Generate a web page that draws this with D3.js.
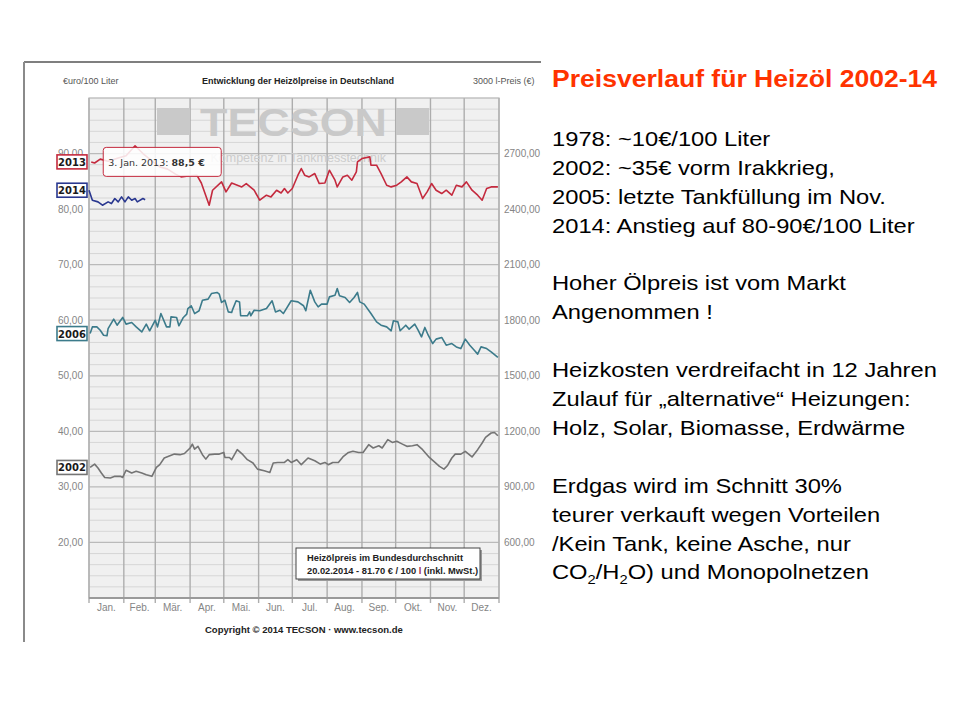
<!DOCTYPE html>
<html>
<head>
<meta charset="utf-8">
<script src="https://cdn.jsdelivr.net/npm/d3@7"></script>
<style>
body { margin: 0; background: #fff; }
svg { display: block; }
</style>
</head>
<body>
<script>
// Heizölpreise (EUR / 100 l), one year per series, dates as MM-DD
var monthLabels = ["Jan.", "Feb.", "Mär.", "Apr.", "Mai.", "Jun.", "Jul.", "Aug.", "Sep.", "Okt.", "Nov.", "Dez."];
var leftTicks = [20, 30, 40, 50, 60, 70, 80, 90];
var rightTicks = [600, 900, 1200, 1500, 1800, 2100, 2400, 2700];
var seriesYears = ["2002", "2006", "2013", "2014"];

var heizoel2002 = [
    ["01-02",33.5],["01-06",34.1],["01-09",33.4],["01-12",32.5],["01-15",31.7],["01-20",31.6],["01-24",31.9],["01-29",31.9],
    ["01-31",31.7],["02-03",33.0],["02-08",32.5],["02-12",32.8],["02-17",32.5],["02-21",32.2],["02-26",31.9],["03-02",33.5],
    ["03-05",34.0],["03-09",35.2],["03-14",35.6],["03-18",35.9],["03-23",35.8],["03-27",36.0],["04-01",37.0],["04-03",37.7],
    ["04-05",36.8],["04-08",37.3],["04-12",35.8],["04-15",35.0],["04-18",35.8],["04-23",35.9],["04-27",35.9],["05-01",36.2],
    ["05-02",35.3],["05-06",35.3],["05-08",34.9],["05-13",36.7],["05-18",35.8],["05-22",34.9],["05-27",34.3],["05-31",33.2],
    ["06-06",32.9],["06-11",32.6],["06-14",34.3],["06-18",34.4],["06-24",34.4],["06-27",34.9],["06-30",34.4],["07-05",34.9],
    ["07-09",34.0],["07-15",35.2],["07-21",34.7],["07-26",34.1],["07-30",34.4],["08-02",34.0],["08-06",34.4],["08-11",34.4],
    ["08-15",35.4],["08-20",36.2],["08-24",36.4],["08-29",36.2],["09-02",36.2],["09-07",37.6],["09-11",37.0],["09-16",37.4],
    ["09-19",37.0],["09-24",38.5],["09-28",38.0],["10-02",38.2],["10-07",37.7],["10-11",37.3],["10-16",37.4],["10-20",37.6],
    ["10-25",36.7],["10-31",35.3],["11-04",34.6],["11-09",33.7],["11-13",33.2],["11-16",33.8],["11-20",35.2],["11-23",35.9],
    ["11-28",35.9],["12-02",36.4],["12-08",35.4],["12-13",36.7],["12-17",37.9],["12-20",38.9],["12-25",39.7],["12-28",39.8],
    ["12-31",39.2]
];

var heizoel2006 = [
    ["01-02",57.6],["01-04",58.8],["01-08",58.8],["01-11",58.2],["01-14",57.3],["01-17",57.2],["01-18",58.5],["01-23",60.2],
    ["01-26",59.1],["01-31",60.5],["02-03",59.3],["02-08",59.6],["02-12",58.8],["02-17",57.9],["02-21",59.3],["02-24",58.1],
    ["03-01",60.0],["03-03",58.8],["03-06",61.2],["03-11",58.8],["03-14",58.8],["03-15",60.6],["03-20",60.5],["03-22",59.0],
    ["03-26",60.5],["03-29",61.1],["03-30",62.1],["04-02",62.6],["04-05",61.2],["04-09",61.7],["04-12",63.6],["04-17",63.8],
    ["04-20",64.8],["04-25",65.0],["04-27",64.7],["04-29",63.2],["05-02",63.6],["05-05",61.5],["05-08",61.4],["05-09",62.0],
    ["05-12",63.5],["05-15",63.3],["05-16",60.8],["05-22",60.8],["05-24",61.5],["05-25",60.8],["05-28",61.8],["06-02",61.7],
    ["06-08",62.1],["06-13",63.5],["06-16",61.5],["06-20",61.8],["06-23",61.2],["06-30",63.5],["07-06",63.3],["07-11",62.6],
    ["07-13",61.7],["07-17",65.4],["07-21",63.3],["07-24",62.4],["07-27",62.9],["08-01",62.9],["08-03",64.2],["08-08",64.5],
    ["08-10",65.7],["08-12",64.4],["08-17",64.1],["08-21",63.2],["08-25",64.1],["08-28",65.0],["08-30",63.3],["09-03",62.9],
    ["09-09",61.2],["09-14",59.7],["09-18",59.1],["09-23",58.8],["09-27",58.1],["09-29",59.9],["10-03",59.7],["10-05",58.1],
    ["10-10",59.1],["10-13",58.4],["10-18",59.3],["10-21",58.2],["10-24",57.0],["10-27",58.7],["10-30",57.3],["11-03",55.8],
    ["11-06",56.6],["11-11",56.9],["11-15",55.5],["11-20",55.8],["11-24",55.2],["11-28",54.9],["12-02",56.6],["12-06",55.5],
    ["12-10",54.6],["12-13",53.9],["12-16",55.2],["12-21",54.9],["12-25",54.3],["12-31",53.3]
];

var heizoel2013 = [
    ["01-03",88.5],["01-06",88.3],["01-11",89.0],["01-18",88.6],["01-27",89.2],["02-03",89.6],["02-11",91.4],["02-18",90.0],
    ["02-26",88.7],["03-05",87.6],["03-12",87.2],["03-19",86.3],["03-24",85.8],["04-01",86.0],["04-07",86.1],["04-11",84.7],
    ["04-18",80.7],["04-21",83.4],["04-29",84.9],["05-03",83.1],["05-08",84.7],["05-17",84.0],["05-21",84.6],["05-28",83.4],
    ["06-02",81.6],["06-08",82.5],["06-12",82.2],["06-17",83.4],["06-21",82.9],["06-24",83.7],["06-27",82.9],["07-01",83.7],
    ["07-06",86.1],["07-09",87.3],["07-12",86.1],["07-16",85.8],["07-21",86.4],["07-25",84.6],["07-30",84.7],["08-03",87.0],
    ["08-08",85.2],["08-10",84.0],["08-15",85.8],["08-19",86.1],["08-23",85.2],["08-27",86.7],["08-28",88.5],["09-01",89.1],
    ["09-08",89.4],["09-09",87.9],["09-14",87.9],["09-18",86.4],["09-23",84.3],["09-27",84.0],["10-02",84.3],["10-06",84.9],
    ["10-11",85.8],["10-15",84.9],["10-20",84.6],["10-25",81.9],["10-29",83.1],["11-02",84.6],["11-06",83.4],["11-11",82.8],
    ["11-15",83.4],["11-20",82.5],["11-24",84.3],["11-29",84.0],["12-03",84.9],["12-08",83.4],["12-13",82.5],["12-17",81.6],
    ["12-21",83.7],["12-25",84.0],["12-31",84.0]
];

var heizoel2014 = [
    ["01-01",83.4],["01-04",81.6],["01-09",81.3],["01-13",80.7],["01-18",81.3],["01-21",81.0],["01-24",81.9],["01-27",81.3],
    ["01-30",82.2],["02-02",81.3],["02-05",82.2],["02-08",81.6],["02-11",81.9],["02-13",81.3],["02-18",81.9],["02-20",81.7]
];

var slideTitle = "Preisverlauf für Heizöl 2002-14";
var slideLines = [
    "1978: ~10€/100 Liter",
    "2002: ~35€ vorm Irakkrieg,",
    "2005: letzte Tankfüllung im Nov.",
    "2014: Anstieg auf 80-90€/100 Liter",
    "",
    "Hoher Ölpreis ist vom Markt",
    "Angenommen !",
    "",
    "Heizkosten verdreifacht in 12 Jahren",
    "Zulauf für „alternative“ Heizungen:",
    "Holz, Solar, Biomasse, Erdwärme",
    "",
    "Erdgas wird im Schnitt 30%",
    "teurer verkauft wegen Vorteilen",
    "/Kein Tank, keine Asche, nur",
    "CO_2/H_2O) und Monopolnetzen"
];

var seriesData = {"2002": heizoel2002, "2006": heizoel2006, "2013": heizoel2013, "2014": heizoel2014};
var seriesColor = {"2002": "#747474", "2006": "#3c7b8b", "2013": "#c42a3e", "2014": "#2a3890"};

var width = 960, height = 720;
var plot = {left: 89, right: 499, top: 98, bottom: 598};
var refYear = 2002;
var font = "'Liberation Sans', Arial, sans-serif";

var parseMD = function(md) {
    var p = md.split("-");
    return new Date(refYear, +p[0] - 1, +p[1]);
};

var de = d3.formatLocale({decimal: ",", thousands: ".", grouping: [3], currency: ["", " €"]});
var fmt = de.format(".2f");

var x = d3.scaleTime()
    .domain([new Date(refYear, 0, 1), new Date(refYear + 1, 0, 1)])
    .range([plot.left, plot.right]);
var y = d3.scaleLinear().domain([10, 100]).range([plot.bottom, plot.top]);
var y3000 = d3.scaleLinear().domain([300, 3000]).range([plot.bottom, plot.top]);

var svg = d3.select("body").append("svg")
    .attr("width", width)
    .attr("height", height);

svg.append("rect").attr("width", width).attr("height", height).attr("fill", "#fff");

svg.append("defs").append("clipPath").attr("id", "imgclip")
    .append("rect").attr("x", 0).attr("y", 0).attr("width", 541).attr("height", height);

var chart = svg.append("g").attr("clip-path", "url(#imgclip)");

// frame of the screenshot
chart.append("line").attr("x1", 24).attr("x2", 541).attr("y1", 62).attr("y2", 62)
    .attr("stroke", "#555").attr("stroke-width", 1.5);
chart.append("line").attr("x1", 24).attr("x2", 24).attr("y1", 62).attr("y2", 642)
    .attr("stroke", "#8a8a8a").attr("stroke-width", 2);

// plot background and grid
chart.append("rect")
    .attr("x", plot.left).attr("y", plot.top)
    .attr("width", plot.right - plot.left).attr("height", plot.bottom - plot.top)
    .attr("fill", "#f0f0f0");

var minor = d3.range(12, 100, 2).filter(function(v) { return v % 10 != 0; });
chart.selectAll(".minor").data(minor).enter().append("line")
    .attr("x1", plot.left).attr("x2", plot.right)
    .attr("y1", function(d) { return y(d); }).attr("y2", function(d) { return y(d); })
    .attr("stroke", "#d6d6d6").attr("stroke-width", 1);

chart.selectAll(".major").data(d3.range(20, 100, 10)).enter().append("line")
    .attr("x1", plot.left).attr("x2", plot.right)
    .attr("y1", function(d) { return y(d); }).attr("y2", function(d) { return y(d); })
    .attr("stroke", "#bababa").attr("stroke-width", 1.3);

var monthStarts = d3.timeMonth.range(new Date(refYear, 0, 1), new Date(refYear + 1, 0, 2));
chart.selectAll(".vgrid").data(monthStarts).enter().append("line")
    .attr("x1", function(d) { return x(d); }).attr("x2", function(d) { return x(d); })
    .attr("y1", plot.top).attr("y2", plot.bottom + 5)
    .attr("stroke", "#adadad").attr("stroke-width", 1.4);

chart.append("rect")
    .attr("x", plot.left).attr("y", plot.top)
    .attr("width", plot.right - plot.left).attr("height", plot.bottom - plot.top)
    .attr("fill", "none").attr("stroke", "#b4b4b4").attr("stroke-width", 1.2);
chart.append("line").attr("x1", plot.left).attr("x2", plot.right)
    .attr("y1", plot.bottom).attr("y2", plot.bottom)
    .attr("stroke", "#9a9a9a").attr("stroke-width", 2);

// watermark
var wm = chart.append("g").attr("fill", "#c9c9c9");
wm.append("rect").attr("x", 157).attr("y", 108).attr("width", 33).attr("height", 27);
wm.append("rect").attr("x", 396).attr("y", 108).attr("width", 33).attr("height", 27);
wm.append("text").attr("x", 200).attr("y", 136)
    .attr("font-family", font).attr("font-weight", "bold").attr("font-size", 39)
    .attr("textLength", 187).attr("lengthAdjust", "spacingAndGlyphs")
    .text("TECSON");
wm.append("text").attr("x", 386).attr("y", 162).attr("text-anchor", "end")
    .attr("font-family", font).attr("font-size", 12.5).attr("fill", "#cccccc")
    .text("Kompetenz in Tankmesstechnik");

// price lines
var line = d3.line()
    .x(function(d) { return x(parseMD(d[0])); })
    .y(function(d) { return y(d[1]); });

chart.selectAll(".series").data(seriesYears).enter().append("path")
    .attr("d", function(d) { return line(seriesData[d]); })
    .attr("fill", "none")
    .attr("stroke", function(d) { return seriesColor[d]; })
    .attr("stroke-width", 1.6)
    .attr("stroke-linejoin", "round");

// left / right axis labels
chart.selectAll(".ltick").data(leftTicks).enter().append("text")
    .attr("x", 83).attr("y", function(d) { return y(d) + 3.5; })
    .attr("text-anchor", "end")
    .attr("font-family", font).attr("font-size", 10).attr("fill", "#858585")
    .text(function(d) { return fmt(d); });

chart.selectAll(".rtick").data(rightTicks).enter().append("text")
    .attr("x", 504).attr("y", function(d) { return y3000(d) + 3.5; })
    .attr("font-family", font).attr("font-size", 10).attr("fill", "#858585")
    .text(function(d) { return fmt(d); });

// month labels and ticks
chart.selectAll(".mlabel").data(monthLabels).enter().append("text")
    .attr("x", function(d, i) { return (x(monthStarts[i]) + x(monthStarts[i + 1])) / 2; })
    .attr("y", 611)
    .attr("text-anchor", "middle")
    .attr("font-family", font).attr("font-size", 10).attr("fill", "#858585")
    .text(function(d) { return d; });

// year tags at the start of each line
var tags = chart.selectAll(".tag").data(seriesYears).enter().append("g")
    .attr("transform", function(d) { return "translate(57," + (y(seriesData[d][0][1]) - 7) + ")"; });
tags.append("rect").attr("width", 30).attr("height", 14)
    .attr("fill", "#fff")
    .attr("stroke", function(d) { return seriesColor[d]; })
    .attr("stroke-width", 1.6);
tags.append("text").attr("x", 15).attr("y", 11).attr("text-anchor", "middle")
    .attr("font-family", "'DejaVu Sans', Verdana, sans-serif").attr("font-weight", "bold")
    .attr("font-size", 10).attr("fill", "#1a1a1a")
    .text(function(d) { return d; });

// tooltip on the first 2013 value
var first13 = heizoel2013[0];
var tip = chart.append("g")
    .attr("transform", "translate(" + (x(parseMD(first13[0])) + 12) + "," + (y(first13[1]) - 14.5) + ")");
tip.append("rect").attr("width", 118).attr("height", 29).attr("rx", 3)
    .attr("fill", "#fff").attr("fill-opacity", 0.85)
    .attr("stroke", seriesColor["2013"]).attr("stroke-width", 1);
var tipText = tip.append("text").attr("x", 5).attr("y", 18.5)
    .attr("font-family", "'DejaVu Sans', Verdana, sans-serif").attr("font-size", 9.5).attr("fill", "#333");
tipText.append("tspan").text("3. Jan. 2013: ");
tipText.append("tspan").attr("font-weight", "bold").text(de.format(".1f")(first13[1]) + " €");

// info box
var info = chart.append("g").attr("transform", "translate(296,548)");
info.append("rect").attr("x", 2).attr("y", 2).attr("width", 184).attr("height", 31).attr("fill", "#9a9a9a");
info.append("rect").attr("width", 184).attr("height", 31).attr("fill", "#fff")
    .attr("stroke", "#444").attr("stroke-width", 1);
info.append("text").attr("x", 11).attr("y", 12.5)
    .attr("font-family", font).attr("font-weight", "bold").attr("font-size", 9.3).attr("fill", "#222")
    .text("Heizölpreis im Bundesdurchschnitt");
var infoLine = info.append("text").attr("x", 11).attr("y", 26)
    .attr("font-family", font).attr("font-weight", "bold").attr("font-size", 9.3).attr("fill", "#222");
infoLine.append("tspan").text("20.02.2014 - 81.70 € / 100 ");
infoLine.append("tspan").attr("fill", "#992050").text("l");
infoLine.append("tspan").text(" (inkl. MwSt.)");

// headings of the screenshot
chart.append("text").attr("x", 63).attr("y", 84)
    .attr("font-family", font).attr("font-size", 9).attr("fill", "#555")
    .text("€uro/100 Liter");
chart.append("text").attr("x", 202).attr("y", 84)
    .attr("font-family", font).attr("font-weight", "bold").attr("font-size", 9).attr("fill", "#222")
    .text("Entwicklung der Heizölpreise in Deutschland");
chart.append("text").attr("x", 473).attr("y", 84)
    .attr("font-family", font).attr("font-size", 9).attr("fill", "#555")
    .text("3000 l-Preis (€)");
chart.append("text").attr("x", 205).attr("y", 633)
    .attr("font-family", font).attr("font-weight", "bold").attr("font-size", 9.5).attr("fill", "#222")
    .text("Copyright © 2014 TECSON · www.tecson.de");

// slide text on the right
var slide = svg.append("g").attr("transform", "translate(552,0) scale(1.13,1)");
slide.append("text").attr("x", 0).attr("y", 87)
    .attr("font-family", font).attr("font-weight", "bold").attr("font-size", 23.5).attr("fill", "#ff3300")
    .text(slideTitle);

var lineStep = 28.9;
slideLines.forEach(function(s, i) {
    if (s == "") return;
    var t = slide.append("text").attr("x", 0).attr("y", 146 + i * lineStep)
        .attr("font-family", font).attr("font-size", 21).attr("fill", "#000");
    var parts = s.split(/_(\d)/);
    var lowered = false;
    parts.forEach(function(p, j) {
        if (p == "") return;
        var ts = t.append("tspan").text(p);
        if (j % 2 == 1) {
            ts.attr("font-size", 13).attr("dy", 5);
            lowered = true;
        } else if (lowered) {
            ts.attr("dy", -5);
            lowered = false;
        }
    });
});
</script>
</body>
</html>
